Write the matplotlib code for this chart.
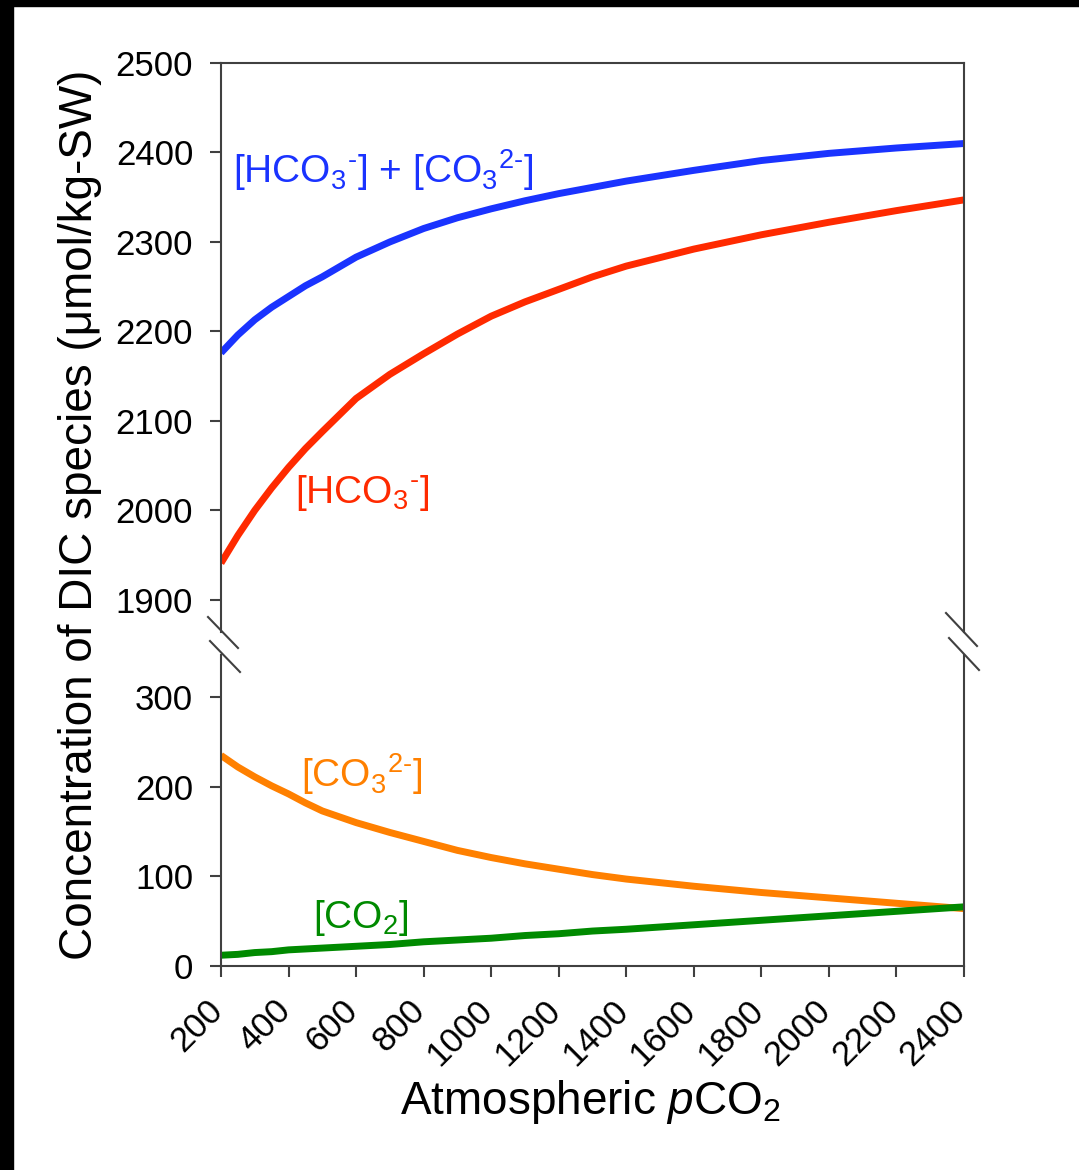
import matplotlib
matplotlib.use("Agg")
import matplotlib.pyplot as plt
from matplotlib.lines import Line2D
from matplotlib.patches import Rectangle
from matplotlib.transforms import ScaledTranslation

plt.rcParams["font.family"] = ["Liberation Sans", "DejaVu Sans"]
plt.rcParams["mathtext.fontset"] = "custom"
plt.rcParams["mathtext.rm"] = "Liberation Sans"
plt.rcParams["mathtext.it"] = "Liberation Sans:italic"
plt.rcParams["mathtext.default"] = "regular"

# values
pco2 = [200, 250, 300, 350, 400, 450, 500, 600, 700, 800, 900, 1000, 1100,
        1200, 1300, 1400, 1600, 1800, 2000, 2200, 2400]
hco3_plus_co3 = [2176, 2196, 2213, 2227, 2239, 2251, 2261, 2283, 2300, 2315, 2327,
                 2337, 2346, 2354, 2361, 2368, 2380, 2391, 2399, 2405, 2410]
hco3 = [1941, 1972, 2000, 2025, 2048, 2069, 2088, 2125, 2152, 2175, 2197,
        2217, 2233, 2247, 2261, 2273, 2292, 2308, 2322, 2335, 2347]
co3 = [235, 222, 211, 201, 192, 182, 173, 160, 149, 139, 129,
       121, 114, 108, 102, 97, 89, 82, 76, 70, 64]
co2 = [12, 13, 15, 16, 18, 19, 20, 22, 24, 27, 29,
       31, 34, 36, 39, 41, 46, 51, 56, 61, 66]

x_ticks = list(range(200, 2401, 200))
top_yticks = [1900, 2000, 2100, 2200, 2300, 2400, 2500]
bot_yticks = [0, 100, 200, 300]

BLUE = "#1a33ff"
RED = "#ff2a00"
ORANGE = "#ff8000"
GREEN = "#008a00"
SPINE = "#404040"

W, H = 1079, 1170
fig = plt.figure(figsize=(W / 100, H / 100), dpi=100)
left, right = 221 / W, 964 / W
ax_top = fig.add_axes([left, 1 - 632 / H, right - left, (632 - 63) / H])
ax_bot = fig.add_axes([left, 1 - 966 / H, right - left, (966 - 655) / H])

lw = 5
ax_top.plot(pco2, hco3_plus_co3, color=BLUE, lw=lw, solid_capstyle="butt")
ax_top.plot(pco2, hco3, color=RED, lw=lw, solid_capstyle="butt")
ax_bot.plot(pco2, co3, color=ORANGE, lw=lw, solid_capstyle="butt")
ax_bot.plot(pco2, co2, color=GREEN, lw=lw, solid_capstyle="butt")

for ax in (ax_top, ax_bot):
    ax.set_xlim(200, 2400)
    for s in ax.spines.values():
        s.set_color(SPINE)
        s.set_linewidth(1.5)
    ax.tick_params(direction="out", length=8, width=1.5, color=SPINE,
                   labelsize=25, pad=12)

ax_top.set_ylim(1864, 2500)
ax_top.set_yticks(top_yticks)
ax_top.spines["bottom"].set_visible(False)
ax_top.tick_params(bottom=False, labelbottom=False)

ax_bot.set_ylim(0, 347)
ax_bot.set_yticks(bot_yticks)
ax_bot.spines["top"].set_visible(False)
ax_bot.set_xticks(x_ticks)
ax_bot.tick_params(axis="x", pad=6)
shift = ScaledTranslation(-0.15, -0.08, fig.dpi_scale_trans)
for lab in ax_bot.get_xticklabels():
    lab.set_rotation(45)
    lab.set_ha("right")
    lab.set_va("top")
    lab.set_rotation_mode("anchor")
    lab.set_transform(lab.get_transform() + shift)

# curve labels
ax_top.text(235, 2366, r"[HCO$_3{}^{\text{-}}$] + [CO$_3{}^{2\text{-}}$]",
            color=BLUE, fontsize=28, va="baseline")
ax_top.text(419, 2008, r"[HCO$_3{}^{\text{-}}$]", color=RED, fontsize=28, va="baseline")
ax_bot.text(437, 200, r"[CO$_3{}^{2\text{-}}$]", color=ORANGE, fontsize=28, va="baseline")
ax_bot.text(472, 42, r"[CO$_2$]", color=GREEN, fontsize=28, va="baseline")

# axis titles
fig.text(80 / W, 1 - 515 / H, "Concentration of DIC species (μmol/kg-SW)",
         rotation=90, ha="center", va="center", fontsize=33)
fig.text(590 / W, 1 - 1114 / H, r"Atmospheric $\mathit{p}$CO$_2$",
         ha="center", va="baseline", fontsize=33)

# axis break marks
for (x0, y0, x1, y1) in [(208, 617, 238, 648), (210, 641, 240, 672),
                         (946, 613, 977, 646), (949, 638, 979, 670)]:
    fig.add_artist(Line2D([x0 / W, x1 / W], [1 - y0 / H, 1 - y1 / H],
                          transform=fig.transFigure, color=SPINE, lw=1.5))

# black frame strips at top and left
fig.add_artist(Rectangle((0, 1 - 6 / H), 1, 6 / H, transform=fig.transFigure,
                         color="black", zorder=10))
fig.add_artist(Rectangle((0, 0), 13 / W, 1, transform=fig.transFigure,
                         color="black", zorder=10))

fig.savefig("out.png", dpi=100)
